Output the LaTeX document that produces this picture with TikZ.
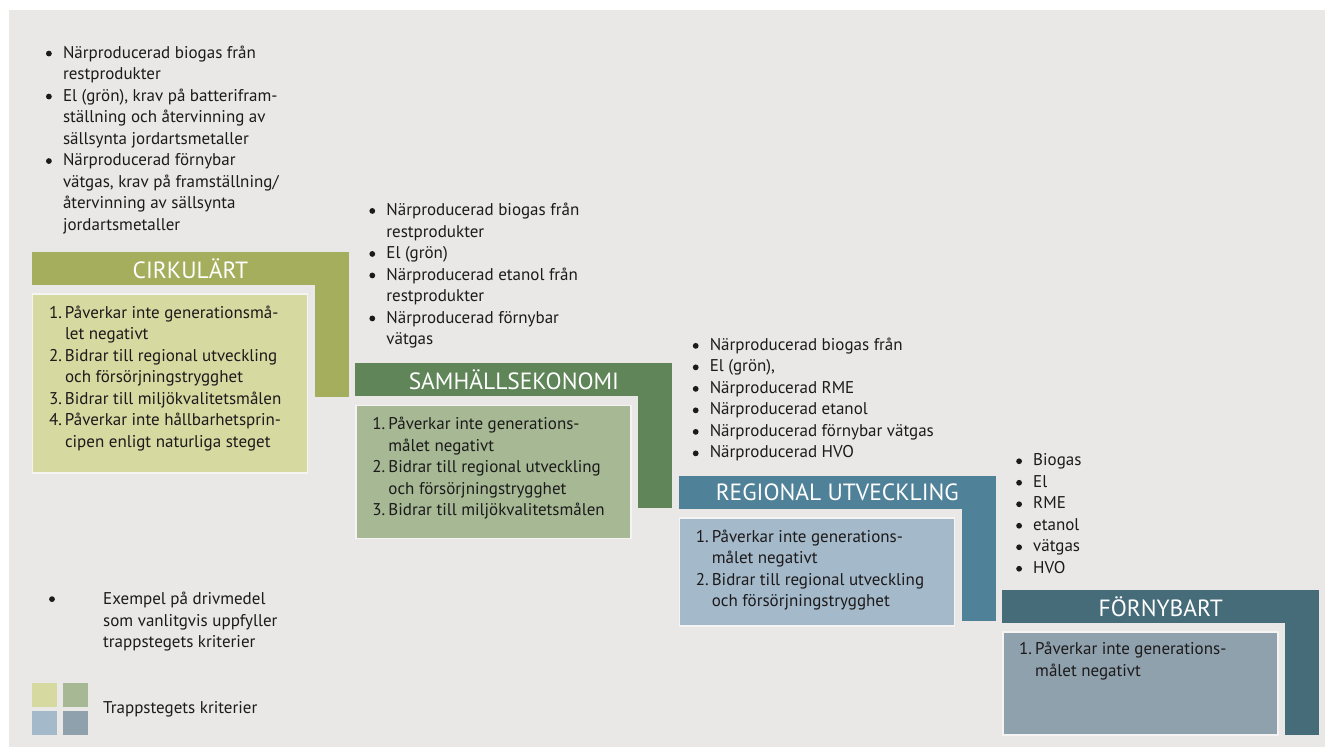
\documentclass[tikz,border=0pt]{standalone}
\usepackage{fontspec}
\setmainfont{PT Sans}
\usepackage{tikz}
\usetikzlibrary{positioning}

\definecolor{paper}{RGB}{233, 232, 230}
\definecolor{rim}{RGB}{245, 244, 242}
\definecolor{ink}{RGB}{28, 26, 27}
\definecolor{oliveHead}{RGB}{164, 174, 92}
\definecolor{oliveBox}{RGB}{214, 217, 160}
\definecolor{greenHead}{RGB}{95, 133, 88}
\definecolor{greenBox}{RGB}{166, 185, 148}
\definecolor{blueHead}{RGB}{79, 129, 153}
\definecolor{blueBox}{RGB}{164, 185, 202}
\definecolor{slateHead}{RGB}{70, 107, 121}
\definecolor{slateBox}{RGB}{143, 161, 173}

\newcommand{\blt}{\tikz[baseline=-4.6pt]\fill[ink] (0pt,0pt) circle (2.9pt);}
\newcommand{\fuellist}[1]{\begin{tabular}{@{}p{17pt}@{}l@{}}#1\end{tabular}}
\newcommand{\critlist}[1]{\begin{tabular}{@{}p{16pt}@{}l@{}}#1\end{tabular}}

\tikzstyle{stephead} = [rectangle, inner sep=0pt, minimum width=317pt, minimum height=33pt, text=white, font=\fontsize{23.5}{24}\selectfont]
\tikzstyle{stepbar} = [rectangle, inner sep=0pt, minimum width=34pt, minimum height=145pt, anchor=north east]
\tikzstyle{critbox} = [rectangle, inner sep=0pt, minimum width=275pt, draw=rim, line width=1.5pt]
\tikzstyle{textonly} = [draw=none, fill=none, inner sep=0pt, text=ink, font=\fontsize{17}{21.5}\selectfont]
\tikzstyle{swatch} = [rectangle, inner sep=0pt, minimum width=25pt, minimum height=24pt]

\begin{document}
\begin{tikzpicture}[x=1pt, y=1pt]

% canvas
\useasboundingbox (0,0) rectangle (1325,-747);
\fill[paper] (9,-10) rectangle (1325,-747);

% steps =============================
\node[stephead, fill=oliveHead] (head1) at (190.5,-268.5) {CIRKULÄRT};
\node[stepbar, fill=oliveHead] (bar1) at (head1.north east) {};
\node[critbox, fill=oliveBox, minimum height=179pt, below=8pt of head1.south west, anchor=north west] (box1) {};

\node[stephead, fill=greenHead, below right=78pt and 6pt of head1.south east] (head2) {SAMHÄLLSEKONOMI};
\node[stepbar, fill=greenHead] (bar2) at (head2.north east) {};
\node[critbox, fill=greenBox, minimum height=133pt, below=8pt of head2.south west, anchor=north west] (box2) {};

\node[stephead, fill=blueHead, below right=79pt and 6pt of head2.south east] (head3) {REGIONAL UTVECKLING};
\node[stepbar, fill=blueHead] (bar3) at (head3.north east) {};
\node[critbox, fill=blueBox, minimum height=108pt, below=8pt of head3.south west, anchor=north west] (box3) {};

\node[stephead, fill=slateHead, below right=81pt and 6pt of head3.south east] (head4) {FÖRNYBART};
\node[stepbar, fill=slateHead] (bar4) at (head4.north east) {};
\node[critbox, fill=slateBox, minimum height=103pt, below=8pt of head4.south west, anchor=north west] (box4) {};

% criteria
\node[textonly, below right=10pt and 17pt of box1.north west] (crit1) {\critlist{
1. & Påverkar inte generationsmå-\\
   & let negativt\\
2. & Bidrar till regional utveckling\\
   & och försörjningstrygghet\\
3. & Bidrar till miljökvalitetsmålen\\
4. & Påverkar inte hållbarhetsprin-\\
   & cipen enligt naturliga steget}};
\node[textonly, below right=10pt and 17pt of box2.north west] (crit2) {\critlist{
1. & Påverkar inte generations-\\
   & målet negativt\\
2. & Bidrar till regional utveckling\\
   & och försörjningstrygghet\\
3. & Bidrar till miljökvalitetsmålen}};
\node[textonly, below right=10pt and 17pt of box3.north west] (crit3) {\critlist{
1. & Påverkar inte generations-\\
   & målet negativt\\
2. & Bidrar till regional utveckling\\
   & och försörjningstrygghet}};
\node[textonly, below right=8pt and 17pt of box4.north west] (crit4) {\critlist{
1. & Påverkar inte generations-\\
   & målet negativt}};

% fuels
\node[textonly, above right=15pt and 14pt of head1.north west] (fuel1) {\fuellist{
\blt & Närproducerad biogas från\\
     & restprodukter\\
\blt & El (grön), krav på batterifram-\\
     & ställning och återvinning av\\
     & sällsynta jordartsmetaller\\
\blt & Närproducerad förnybar\\
     & vätgas, krav på framställning/\\
     & återvinning av sällsynta\\
     & jordartsmetaller}};
\node[textonly, above right=12pt and 14pt of head2.north west] (fuel2) {\fuellist{
\blt & Närproducerad biogas från\\
     & restprodukter\\
\blt & El (grön)\\
\blt & Närproducerad etanol från\\
     & restprodukter\\
\blt & Närproducerad förnybar\\
     & vätgas}};
\node[textonly, above right=11pt and 14pt of head3.north west] (fuel3) {\fuellist{
\blt & Närproducerad biogas från\\
\blt & El (grön),\\
\blt & Närproducerad RME\\
\blt & Närproducerad etanol\\
\blt & Närproducerad förnybar vätgas\\
\blt & Närproducerad HVO}};
\node[textonly, above right=10pt and 14pt of head4.north west] (fuel4) {\fuellist{
\blt & Biogas\\
\blt & El\\
\blt & RME\\
\blt & etanol\\
\blt & vätgas\\
\blt & HVO}};

% legend
\node[textonly] (legdot) at (52,-600) {\blt};
\node[textonly, anchor=north west] (legfuel) at (103,-589.5) {\begin{tabular}{@{}l@{}}
Exempel på drivmedel\\
som vanlitgvis uppfyller\\
trappstegets kriterier\end{tabular}};

\node[swatch, fill=oliveBox, anchor=north west] (sw1) at (32,-683) {};
\node[swatch, fill=greenBox, right=5pt of sw1] (sw2) {};
\node[swatch, fill=blueBox, below=3pt of sw1] (sw3) {};
\node[swatch, fill=slateBox, right=5pt of sw3] (sw4) {};
\node[textonly, anchor=north west] (legcrit) at (103,-697.8) {\begin{tabular}{@{}l@{}}Trappstegets kriterier\end{tabular}};

\end{tikzpicture}
\end{document}
